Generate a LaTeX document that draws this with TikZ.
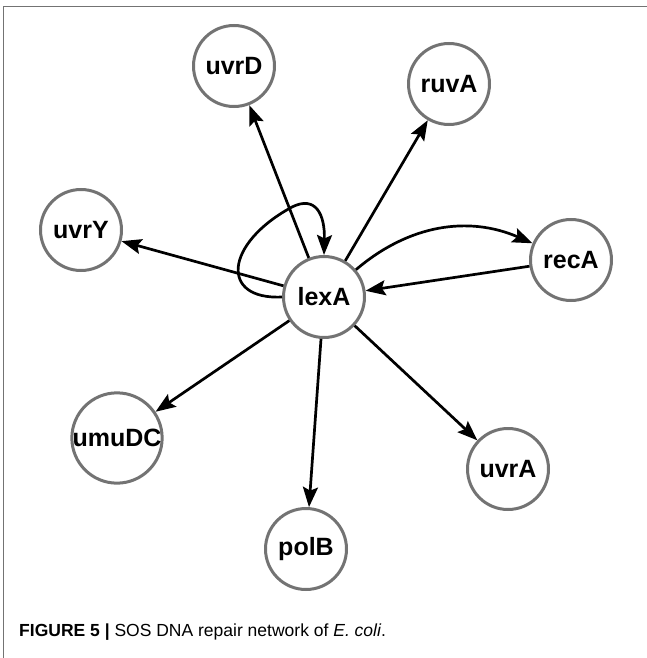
\documentclass[tikz,border=0pt]{standalone}
\usepackage{fontspec}
\setmainfont{Liberation Sans}
\usetikzlibrary{arrows.meta}
\begin{document}
\begin{tikzpicture}[x=1pt,y=-1pt,
  gene/.style={circle,draw=black!55,line width=3pt,fill=white,
    minimum size=81pt,inner sep=0pt,font=\fontsize{25}{25}\selectfont\bfseries},
  edge/.style={line width=2.7pt,black,
    -{Stealth[length=20pt,width=15pt,inset=3.5pt]}},
  frame/.style={line width=1.4pt,black!55}]
  \useasboundingbox (0,0) rectangle (647,658);
  % outer frame lines
  \coordinate (fTL) at (3.5,6.5);
  \coordinate (fTR) at (647,6.5);
  \coordinate (fBL) at (3.5,658);
  \draw[frame] (fTR) -- (fTL) -- (fBL);
  % genes
  \node[gene] (lexA)  at (324,297) {lexA};
  \node[gene] (uvrD)  at (234,66)  {uvrD};
  \node[gene] (ruvA)  at (449,84)  {ruvA};
  \node[gene] (recA)  at (571,260) {recA};
  \node[gene] (uvrY)  at (81,230)  {uvrY};
  \node[gene] (umuDC) at (117,438) {umuDC};
  \node[gene] (polB)  at (306,549) {polB};
  \node[gene] (uvrA)  at (508,469) {uvrA};
  % regulatory edges
  \draw[edge] (lexA) -- (uvrD);
  \draw[edge] (lexA) -- (ruvA);
  \draw[edge] (lexA) to[bend left=32] (recA);
  \draw[edge] (recA) -- (lexA);
  \draw[edge] (lexA) -- (uvrY);
  \draw[edge] (lexA) -- (umuDC);
  \draw[edge] (lexA) -- (polB);
  \draw[edge] (lexA) -- (uvrA);
  % self-regulation loop
  \coordinate (loopTop) at (292,207);
  \draw[edge] (lexA.180) .. controls (220,300) and (224,244) .. (loopTop)
    .. controls (316,195) and (325,215) .. (lexA.90);
  % caption
  \node[anchor=west,inner sep=0pt,font=\fontsize{17.5}{17.5}\selectfont] (cap) at (19,632)
    {\textbf{FIGURE 5 |} SOS DNA repair network of \textit{E. coli}.};
\end{tikzpicture}
\end{document}
